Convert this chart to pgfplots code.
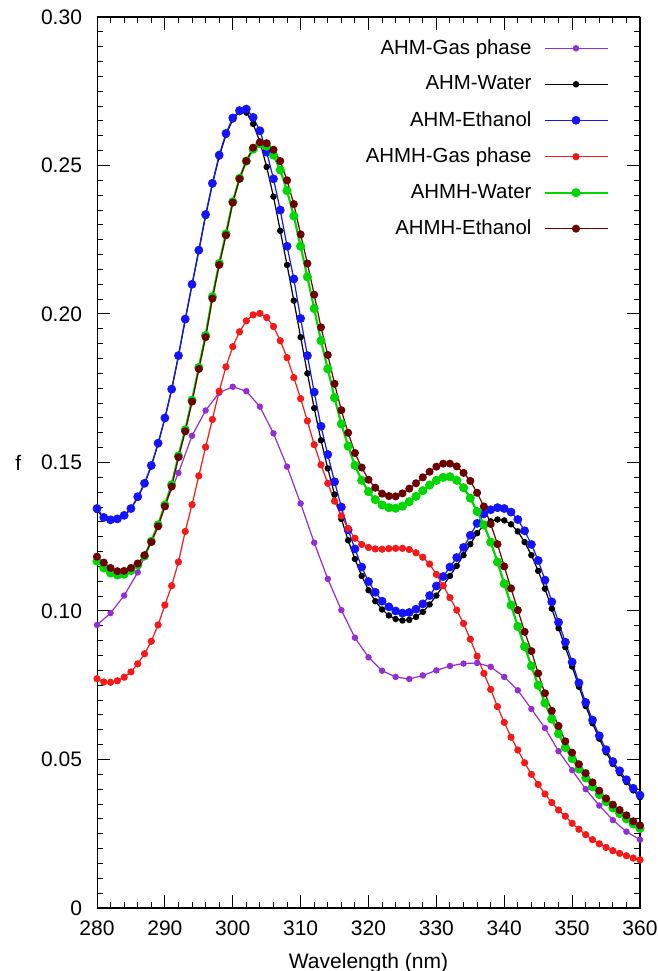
\documentclass[border=0pt]{standalone}
\usepackage{fontspec}
\setmainfont{Liberation Sans}
\usepackage{pgfplots}
\usepackage{pgfplotstable}
\pgfplotsset{compat=1.18}

\definecolor{cpurple}{RGB}{148,45,212}
\definecolor{cblue}{RGB}{20,20,255}
\definecolor{cred}{RGB}{245,25,25}
\definecolor{cgreen}{RGB}{0,215,0}
\definecolor{cmaroon}{RGB}{110,0,0}

% AHM gas phase, read every 2 nm
\pgfplotstableread{
wl f
280 0.0953
282 0.0993
284 0.1052
286 0.1130
288 0.1235
290 0.1355
292 0.1465
294 0.1590
296 0.1675
298 0.1735
300 0.1755
302 0.1740
304 0.1688
306 0.1598
308 0.1486
310 0.1362
312 0.1230
314 0.1108
316 0.1003
318 0.0910
320 0.0844
322 0.0799
324 0.0778
326 0.0771
328 0.0783
330 0.0800
332 0.0815
334 0.0823
336 0.0825
338 0.0812
340 0.0778
342 0.0733
344 0.0670
346 0.0606
348 0.0528
350 0.0464
352 0.0400
354 0.0345
356 0.0296
358 0.0257
360 0.0230
}\tgas

% other five series, read every 1 nm
\pgfplotstableread{
wl ahmw ahme ahmhg ahmhw ahmhe
280 0.1340 0.1345 0.0772 0.1168 0.1183
281 0.1312 0.1315 0.0761 0.1145 0.1163
282 0.1305 0.1307 0.0760 0.1128 0.1145
283 0.1308 0.1310 0.0765 0.1121 0.1134
284 0.1320 0.1322 0.0777 0.1124 0.1135
285 0.1343 0.1345 0.0795 0.1136 0.1145
286 0.1382 0.1385 0.0822 0.1155 0.1160
287 0.1428 0.1430 0.0856 0.1185 0.1188
288 0.1488 0.1490 0.0898 0.1235 0.1232
289 0.1563 0.1565 0.0953 0.1290 0.1285
290 0.1648 0.1650 0.1020 0.1357 0.1352
291 0.1745 0.1747 0.1085 0.1425 0.1419
292 0.1858 0.1860 0.1165 0.1522 0.1518
293 0.1980 0.1983 0.1268 0.1610 0.1605
294 0.2098 0.2100 0.1358 0.1710 0.1705
295 0.2212 0.2215 0.1455 0.1820 0.1815
296 0.2330 0.2335 0.1552 0.1928 0.1922
297 0.2436 0.2440 0.1645 0.2058 0.2052
298 0.2530 0.2535 0.1740 0.2170 0.2165
299 0.2603 0.2608 0.1822 0.2270 0.2265
300 0.2655 0.2660 0.1890 0.2378 0.2375
301 0.2680 0.2685 0.1940 0.2457 0.2455
302 0.2678 0.2690 0.1977 0.2515 0.2515
303 0.2640 0.2662 0.1997 0.2555 0.2560
304 0.2580 0.2617 0.2002 0.2573 0.2578
305 0.2495 0.2545 0.1988 0.2565 0.2575
306 0.2395 0.2455 0.1958 0.2535 0.2553
307 0.2280 0.2350 0.1910 0.2485 0.2515
308 0.2165 0.2228 0.1853 0.2415 0.2450
309 0.2045 0.2118 0.1786 0.2330 0.2370
310 0.1922 0.1985 0.1715 0.2228 0.2268
311 0.1800 0.1860 0.1640 0.2125 0.2170
312 0.1683 0.1737 0.1560 0.2018 0.2065
313 0.1575 0.1622 0.1492 0.1910 0.1955
314 0.1480 0.1527 0.1430 0.1815 0.1862
315 0.1392 0.1435 0.1370 0.1718 0.1765
316 0.1310 0.1350 0.1320 0.1630 0.1676
317 0.1238 0.1273 0.1278 0.1555 0.1600
318 0.1175 0.1209 0.1245 0.1490 0.1532
319 0.1118 0.1148 0.1224 0.1440 0.1483
320 0.1070 0.1099 0.1214 0.1402 0.1442
321 0.1033 0.1063 0.1209 0.1375 0.1415
322 0.1005 0.1033 0.1208 0.1357 0.1395
323 0.0985 0.1014 0.1210 0.1348 0.1387
324 0.0973 0.1000 0.1211 0.1346 0.1386
325 0.0968 0.0993 0.1211 0.1353 0.1396
326 0.0970 0.0995 0.1207 0.1368 0.1412
327 0.0980 0.1006 0.1196 0.1386 0.1430
328 0.0997 0.1024 0.1181 0.1405 0.1450
329 0.1022 0.1052 0.1158 0.1424 0.1469
330 0.1052 0.1084 0.1123 0.1440 0.1486
331 0.1085 0.1116 0.1085 0.1450 0.1496
332 0.1118 0.1148 0.1045 0.1452 0.1496
333 0.1152 0.1180 0.1003 0.1440 0.1487
334 0.1188 0.1214 0.0958 0.1415 0.1465
335 0.1225 0.1255 0.0905 0.1380 0.1438
336 0.1262 0.1295 0.0848 0.1335 0.1398
337 0.1290 0.1327 0.0790 0.1290 0.1352
338 0.1302 0.1341 0.0736 0.1232 0.1293
339 0.1308 0.1348 0.0678 0.1165 0.1225
340 0.1305 0.1345 0.0625 0.1092 0.1150
341 0.1292 0.1333 0.0575 0.1020 0.1076
342 0.1268 0.1308 0.0532 0.0948 0.1003
343 0.1232 0.1270 0.0489 0.0880 0.0930
344 0.1188 0.1224 0.0450 0.0815 0.0865
345 0.1135 0.1170 0.0416 0.0750 0.0790
346 0.1075 0.1104 0.0384 0.0690 0.0723
347 0.1008 0.1031 0.0355 0.0636 0.0664
348 0.0942 0.0962 0.0330 0.0587 0.0613
349 0.0878 0.0895 0.0309 0.0540 0.0561
350 0.0813 0.0828 0.0285 0.0503 0.0523
351 0.0745 0.0758 0.0265 0.0468 0.0484
352 0.0680 0.0692 0.0247 0.0438 0.0454
353 0.0622 0.0633 0.0230 0.0408 0.0423
354 0.0570 0.0580 0.0216 0.0382 0.0395
355 0.0524 0.0533 0.0204 0.0358 0.0369
356 0.0485 0.0493 0.0193 0.0337 0.0348
357 0.0454 0.0462 0.0184 0.0318 0.0330
358 0.0424 0.0432 0.0176 0.0300 0.0312
359 0.0396 0.0403 0.0168 0.0283 0.0292
360 0.0373 0.0380 0.0162 0.0268 0.0278
}\tmain

\begin{document}
\begin{tikzpicture}
\begin{axis}[
  scale only axis,
  width=271.5pt,
  height=445.5pt,
  xmin=280, xmax=360,
  ymin=0, ymax=0.30,
  xtick={280,290,...,360},
  minor x tick num=4,
  ytick={0,0.05,0.10,0.15,0.20,0.25,0.30},
  yticklabels={0,0.05,0.10,0.15,0.20,0.25,0.30},
  minor y tick num=9,
  tick align=inside,
  major tick length=6.5pt,
  minor tick length=3pt,
  every tick/.style={black, line width=0.5pt},
  tick label style={font=\fontsize{10.5}{12}\selectfont},
  /pgf/number format/assume math mode=true,
  xticklabel style={yshift=-3pt},
  yticklabel style={xshift=-4pt},
  xlabel={Wavelength (nm)},
  xlabel style={at={(axis description cs:0.5,0)}, anchor=north, yshift=-19pt, font=\fontsize{10.5}{12}\selectfont},
  ylabel={f},
  ylabel style={at={(axis description cs:-0.145,0.5)}, anchor=center, rotate=-90, font=\fontsize{10.5}{12}\selectfont},
  legend style={draw=none, fill=none, at={(1,1)}, anchor=north east,
    xshift=-12.5pt, yshift=-7pt, font=\fontsize{10.2}{11.5}\selectfont, row sep=5.3pt,
    /tikz/every odd column/.append style={column sep=4pt}},
  legend cell align=right,
  legend plot pos=right,
  legend image code/.code={\draw[mark repeat=2,mark phase=2,#1] plot coordinates {(0pt,0pt) (15.75pt,0pt) (31.5pt,0pt)};},
]
\addplot[color=cpurple, line width=0.6pt, mark=*, mark size=1.3pt, mark options={solid}] table[x=wl,y=f] {\tgas};
\addplot[color=black, line width=0.6pt, mark=*, mark size=1.3pt, mark options={solid}] table[x=wl,y=ahmw] {\tmain};
\addplot[color=cblue, line width=0.6pt, mark=*, mark size=1.9pt, mark options={solid}] table[x=wl,y=ahme] {\tmain};
\addplot[color=cred, line width=0.6pt, mark=*, mark size=1.5pt, mark options={solid}] table[x=wl,y=ahmhg] {\tmain};
\addplot[color=cgreen, line width=1.1pt, mark=*, mark size=1.7pt, mark options={solid}] table[x=wl,y=ahmhw] {\tmain};
\addplot[color=cmaroon, line width=0.6pt, mark=*, mark size=1.7pt, mark options={solid}] table[x=wl,y=ahmhe] {\tmain};
\legend{AHM-Gas phase,AHM-Water,AHM-Ethanol,AHMH-Gas phase,AHMH-Water,AHMH-Ethanol}
\draw[line width=1.4pt] (rel axis cs:0,0) rectangle (rel axis cs:1,1);
\coordinate (bl) at (rel axis cs:0,0);
\coordinate (tr) at (rel axis cs:1,1);
\end{axis}
\pgfresetboundingbox
\path[use as bounding box] ([shift={(-48.5pt,-31.5pt)}]bl) rectangle ([shift={(8.5pt,8.5pt)}]tr);
\end{tikzpicture}
\end{document}
